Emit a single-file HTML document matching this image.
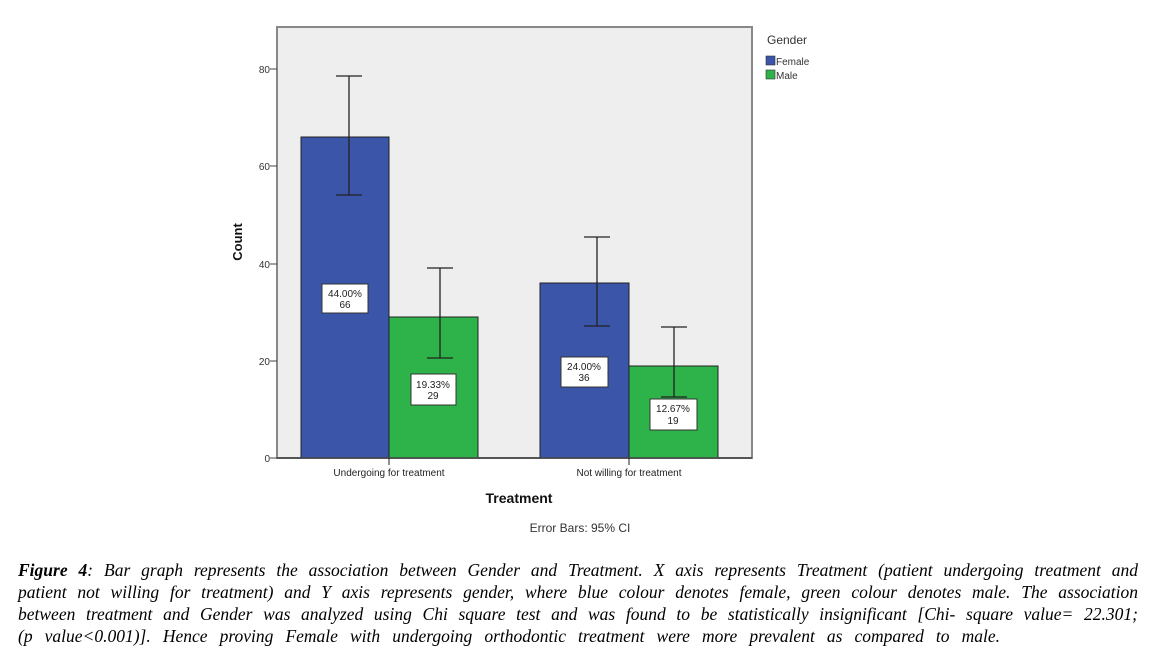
<!DOCTYPE html>
<html><head><style>
body{margin:0;background:#fff;width:1152px;height:663px;overflow:hidden;position:relative}
.cap{position:absolute;left:18px;top:559px;width:1120px;font:italic 17.5px/22px "Liberation Serif",serif;color:#000}
.cap div{white-space:nowrap;text-align:justify;text-align-last:justify}
.cap div.last{width:982px}
</style></head><body>
<svg width="1152" height="540" style="position:absolute;left:0;top:0" font-family="Liberation Sans, sans-serif">
<rect x="277" y="27" width="475" height="431" fill="#eeeeee" stroke="#888" stroke-width="2"/>
<g fill="#3b55a8" stroke="#222" stroke-width="1">
<rect x="301" y="137" width="88" height="321"/>
<rect x="540" y="283" width="89" height="175"/>
</g>
<g fill="#2db34a" stroke="#222" stroke-width="1">
<rect x="389" y="317" width="89" height="141"/>
<rect x="629" y="366" width="89" height="92"/>
</g>
<g stroke="#222" stroke-width="1.3">
<line x1="349" y1="76" x2="349" y2="195"/><line x1="336" y1="76" x2="362" y2="76"/><line x1="336" y1="195" x2="362" y2="195"/>
<line x1="440" y1="268" x2="440" y2="358"/><line x1="427" y1="268" x2="453" y2="268"/><line x1="427" y1="358" x2="453" y2="358"/>
<line x1="597" y1="237" x2="597" y2="326"/><line x1="584" y1="237" x2="610" y2="237"/><line x1="584" y1="326" x2="610" y2="326"/>
<line x1="674" y1="327" x2="674" y2="397"/><line x1="661" y1="327" x2="687" y2="327"/><line x1="661" y1="397" x2="687" y2="397"/>
</g>
<line x1="277" y1="458" x2="752" y2="458" stroke="#444" stroke-width="1.5"/>
<line x1="389" y1="458" x2="389" y2="465" stroke="#222"/><line x1="629" y1="458" x2="629" y2="465" stroke="#222"/>
<g stroke="#444"><line x1="270" y1="69" x2="277" y2="69"/><line x1="270" y1="166" x2="277" y2="166"/><line x1="270" y1="264" x2="277" y2="264"/><line x1="270" y1="361" x2="277" y2="361"/><line x1="270" y1="458" x2="277" y2="458"/></g>
<g font-size="10" fill="#333" text-anchor="end"><text x="270" y="73">80</text><text x="270" y="170">60</text><text x="270" y="268">40</text><text x="270" y="365">20</text><text x="270" y="462">0</text></g>
<g fill="#fff" stroke="#333"><rect x="322" y="284" width="46" height="29"/><rect x="411" y="374" width="45" height="31"/><rect x="561" y="357" width="47" height="30"/><rect x="650" y="399" width="47" height="31"/></g>
<g font-size="10" fill="#222" text-anchor="middle">
<text x="345" y="297">44.00%</text><text x="345" y="308">66</text>
<text x="433" y="388">19.33%</text><text x="433" y="399">29</text>
<text x="584" y="370">24.00%</text><text x="584" y="381">36</text>
<text x="673" y="412">12.67%</text><text x="673" y="424">19</text>
<text x="389" y="476">Undergoing for treatment</text>
<text x="629" y="476">Not willing for treatment</text>
</g>
<text x="519" y="503" font-size="14" font-weight="bold" text-anchor="middle" fill="#111">Treatment</text>
<text x="580" y="532" font-size="12" text-anchor="middle" fill="#333">Error Bars: 95% CI</text>
<text transform="translate(242,242) rotate(-90)" font-size="13" font-weight="bold" text-anchor="middle" fill="#111">Count</text>
<text x="767" y="44" font-size="12" fill="#333">Gender</text>
<rect x="766" y="56" width="9" height="9" fill="#3b55a8" stroke="#333" stroke-width=".6"/>
<rect x="766" y="70" width="9" height="9" fill="#2db34a" stroke="#333" stroke-width=".6"/>
<text x="776" y="65" font-size="10" fill="#333">Female</text>
<text x="776" y="79" font-size="10" fill="#333">Male</text>
</svg>
<div class="cap">
<div><b>Figure 4</b>: Bar graph represents the association between Gender and Treatment. X axis represents Treatment (patient undergoing treatment and</div>
<div>patient not willing for treatment) and Y axis represents gender, where blue colour denotes female, green colour denotes male. The association</div>
<div>between treatment and Gender was analyzed using Chi square test and was found to be statistically insignificant [Chi- square value= 22.301;</div>
<div class="last">(p value&lt;0.001)]. Hence proving Female with undergoing orthodontic treatment were more prevalent as compared to male.</div>
</div>
</body></html>
